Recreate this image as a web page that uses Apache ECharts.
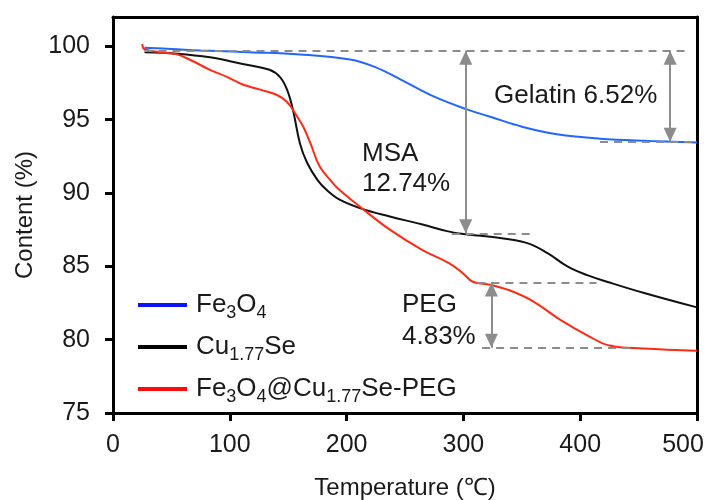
<!DOCTYPE html>
<html>
<head>
<meta charset="utf-8">
<script src="https://cdn.jsdelivr.net/npm/echarts@6/dist/echarts.min.js"></script>
<style>html,body{margin:0;padding:0;background:#fff}#c{width:710px;height:500px}</style>
</head>
<body>
<div id="c"></div>
<script>
// ---- data ----
const fe3o4T = [27, 50, 75, 117, 160, 203, 224, 246, 274, 303, 323, 351, 380, 417, 460, 500];
const fe3o4V = [99.9, 99.82, 99.72, 99.6, 99.45, 99.1, 98.6, 97.75, 96.6, 95.7, 95.2, 94.5, 94.0, 93.7, 93.55, 93.45];

const cuseT = [27, 55, 83, 111, 134, 143, 149, 154, 160, 166, 175, 183, 194, 214, 237, 265, 286, 300, 325, 354, 372, 389, 406, 425, 454, 500];
const cuseV = [99.6, 99.5, 99.25, 98.8, 98.4, 97.9, 97.05, 95.7, 93.4, 92.1, 90.9, 90.2, 89.55, 88.9, 88.4, 87.85, 87.4, 87.2, 87.0, 86.6, 85.9, 85.0, 84.4, 83.9, 83.2, 82.2];

const pegT = [25, 27, 40, 55, 68, 83, 98, 111, 126, 140, 149, 157, 163, 169, 177, 188, 194, 214, 237, 265, 288, 300, 308, 323, 340, 360, 383, 406, 425, 454, 500];
const pegV = [100.15, 99.8, 99.6, 99.45, 99.0, 98.4, 97.9, 97.4, 97.05, 96.7, 96.2, 95.3, 94.5, 93.4, 91.8, 90.7, 90.2, 88.9, 87.5, 86.1, 85.2, 84.5, 83.95, 83.75, 83.35, 82.6, 81.35, 80.3, 79.6, 79.4, 79.25];

const seriesNames = ['Fe3O4', 'Cu1.77Se', 'Fe3O4@Cu1.77Se-PEG'];
const xTicks = [0, 100, 200, 300, 400, 500];
const yTicks = [75, 80, 85, 90, 95, 100];

// annotation guide levels [temperature start, temperature end, level]
const guideLines = [
  [27, 492, 99.7],
  [417, 500, 93.5],
  [290, 360, 87.25],
  [312, 414, 83.9],
  [316, 445, 79.45]
];
// arrows [temperature, from, to]
const arrows = [
  [477, 99.7, 93.5],
  [302, 99.7, 87.25],
  [324, 83.9, 79.45]
];

const zip = (a, b) => a.map((v, i) => [v, b[i]]);
const FONT = 'Liberation Sans, Arial, Helvetica, sans-serif';
const TXT = '#1a1a1a';

const chart = echarts.init(document.getElementById('c'), null, {renderer: 'canvas'});

const richFmt = {
  'Fe3O4': '{g|}{n|Fe}{s|3}{n|O}{s|4}',
  'Cu1.77Se': '{g|}{n|Cu}{s|1.77}{n|Se}',
  'Fe3O4@Cu1.77Se-PEG': '{g|}{n|Fe}{s|3}{n|O}{s|4}{n|@Cu}{s|1.77}{n|Se-PEG}'
};

const markLineData = guideLines.map(g => [{coord: [g[0], g[2]]}, {coord: [g[1], g[2]]}]);
const arrowData = arrows.map(a => [
  {coord: [a[0], a[1]], symbolOffset: [0, 7]},
  {coord: [a[0], a[2]], symbolOffset: [0, 7]}
]);

chart.setOption({
  animation: false,
  backgroundColor: '#fff',
  textStyle: {fontFamily: FONT},
  grid: {left: 113, right: 13, top: 17, bottom: 87, outerBoundsMode: 'none', containLabel: false},
  legend: {
    orient: 'vertical',
    left: 133,
    top: 283,
    itemWidth: 49,
    itemHeight: 4,
    itemGap: 8,
    icon: 'rect',
    data: [
      {name: seriesNames[0], itemStyle: {color: '#0a14ff'}},
      {name: seriesNames[1], itemStyle: {color: '#000000'}},
      {name: seriesNames[2], itemStyle: {color: '#ff0a0a'}}
    ],
    formatter: n => richFmt[n],
    textStyle: {
      color: TXT,
      fontFamily: FONT,
      rich: {
        g: {width: 4, fontSize: 26, lineHeight: 28},
        n: {fontSize: 26, lineHeight: 28, color: TXT, fontFamily: FONT},
        s: {fontSize: 18, lineHeight: 28, padding: [16, 0, 0, 0], color: TXT, fontFamily: FONT}
      }
    }
  },
  xAxis: [{
    type: 'value', min: 0, max: 500, interval: 100,
    name: 'Temperature (℃)', nameLocation: 'middle', nameGap: 63,
    nameTextStyle: {fontSize: 24, color: TXT, fontFamily: FONT},
    axisLine: {show: true, onZero: false, lineStyle: {color: '#000', width: 3}},
    axisTick: {show: true, inside: false, length: 8, lineStyle: {color: '#000', width: 3}},
    axisLabel: {
      fontSize: 25, color: TXT, margin: 20, fontFamily: FONT,
      formatter: v => (v === 500 ? '{m|' + v + '}' : String(v)),
      rich: {m: {fontSize: 25, color: TXT, fontFamily: FONT, padding: [0, 28, 0, 0]}}
    },
    splitLine: {show: false}
  }, {
    type: 'value', position: 'top', min: 0, max: 500,
    axisLine: {show: true, onZero: false, lineStyle: {color: '#000', width: 3}},
    axisTick: {show: false}, axisLabel: {show: false}, splitLine: {show: false}
  }],
  yAxis: [{
    type: 'value', min: 75, max: 102, interval: 5,
    name: 'Content (%)', nameLocation: 'middle', nameGap: 68, nameRotate: 90,
    nameTextStyle: {fontSize: 24, color: TXT, fontFamily: FONT},
    axisLine: {show: true, onZero: false, lineStyle: {color: '#000', width: 3}},
    axisTick: {show: true, inside: false, length: 8, customValues: yTicks, lineStyle: {color: '#000', width: 3}},
    axisLabel: {fontSize: 25, color: TXT, margin: 23, customValues: yTicks, fontFamily: FONT},
    splitLine: {show: false}
  }, {
    type: 'value', position: 'right', min: 75, max: 102,
    axisLine: {show: true, onZero: false, lineStyle: {color: '#000', width: 3}},
    axisTick: {show: false}, axisLabel: {show: false}, splitLine: {show: false}
  }],
  series: [
    {
      name: 'guides', type: 'line', data: [], z: 1, silent: true,
      markLine: {
        silent: true, symbol: ['none', 'none'], animation: false,
        label: {show: false},
        lineStyle: {color: '#8c8c8c', width: 2, type: [8, 6]},
        data: markLineData
      }
    },
    {
      name: 'arrows', type: 'line', data: [], z: 3, silent: true,
      markLine: {
        silent: true, symbol: ['triangle', 'triangle'], symbolSize: [13, 14],
        animation: false,
        label: {show: false},
        lineStyle: {color: '#8c8c8c', width: 2, type: 'solid'},
        itemStyle: {color: '#8c8c8c'},
        data: arrowData
      }
    },
    {
      name: seriesNames[0], type: 'line', data: zip(fe3o4T, fe3o4V), smooth: 0.4,
      showSymbol: false, symbol: 'none', z: 2,
      lineStyle: {color: '#2266ff', width: 2}, itemStyle: {color: '#2266ff'}
    },
    {
      name: seriesNames[1], type: 'line', data: zip(cuseT, cuseV), smooth: 0.4,
      showSymbol: false, symbol: 'none', z: 2,
      lineStyle: {color: '#111111', width: 2}, itemStyle: {color: '#111111'}
    },
    {
      name: seriesNames[2], type: 'line', data: zip(pegT, pegV), smooth: 0.4,
      showSymbol: false, symbol: 'none', z: 2,
      lineStyle: {color: '#ff2a14', width: 2}, itemStyle: {color: '#ff2a14'}
    }
  ],
  graphic: [
    {type: 'text', left: 494, top: 83, style: {text: 'Gelatin 6.52%', font: '26px ' + FONT, fill: TXT}},
    {type: 'text', left: 362, top: 139, style: {text: 'MSA\n12.74%', font: '26px ' + FONT, fill: TXT, lineHeight: 30}},
    {type: 'text', left: 402, top: 289, style: {text: 'PEG\n4.83%', font: '26px ' + FONT, fill: TXT, lineHeight: 32}}
  ]
});
</script>
</body>
</html>
